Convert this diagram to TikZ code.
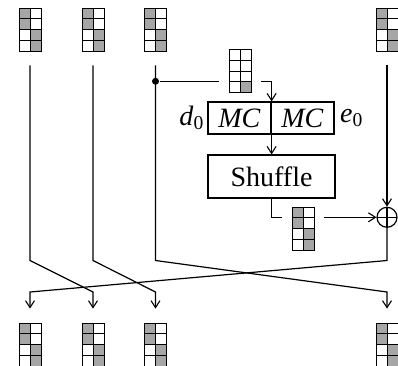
\documentclass[tikz,border=0pt]{standalone}
\usepackage{fontspec}
\setmainfont{Liberation Serif}
\usepackage{xcolor}
\usepackage{tikz}
\usetikzlibrary{positioning, calc, arrows.meta, matrix}
\definecolor{cellgray}{RGB}{166, 166, 166}

\begin{document}
\begin{tikzpicture}[x=1pt, y=-1pt, line width=1.2pt,
    arr/.style={-{Straight Barb[length=7pt, width=9pt, line width=1.1pt]}},
    g/.style={fill=cellgray},
    blk/.style={matrix of nodes, nodes in empty cells, ampersand replacement=\&,
        nodes={draw, line width=0.9pt, minimum width=11pt, minimum height=10.75pt, inner sep=0pt, anchor=center},
        row sep=-0.9pt, column sep=-0.9pt},
    box/.style={draw, inner sep=0pt, font=\fontsize{28}{30}\selectfont},
    lbl/.style={inner sep=0pt, font=\fontsize{28}{30}\selectfont}]
    \useasboundingbox (0,0) rectangle (398,365);

    % state blocks, top and bottom rows + shuffled block
    \foreach \n/\x/\y in {in1/30/29.5, in2/93/29.5, in3/155.5/29.5, in4/387/29.5,
                          out1/30/344.5, out2/93/344.5, out3/155.5/344.5, out4/387/344.5,
                          mix/303/228.5} {
        \matrix[blk] (\n) at (\x,\y) {
            |[g]| \& \\
            |[g]| \& \\
            \& |[g]| \\
            \& |[g]| \\
        };
    }
    % key block
    \matrix[blk] (key) at (240,71) {
        \& \\
        \& \\
        \& \\
        \& |[g]| \\
    };

    % round function
    \node[box, minimum width=63pt, minimum height=32pt] (mcl) at (239.5,118) {\textit{MC}};
    \node[box, minimum width=63pt, minimum height=32pt, right=-\pgflinewidth of mcl] (mcr) {\textit{MC}};
    \node[lbl, left=3pt of mcl] (d0) {\textit{d}\textsubscript{0}};
    \node[lbl, right=5pt of mcr] (e0) {\textit{e}\textsubscript{0}};
    \node[box, minimum width=127pt, minimum height=43pt] (shuf) at (271.5,176.5) {Shuffle};
    \node[draw, circle, minimum size=20pt, inner sep=0pt,
          path picture={\draw (path picture bounding box.north) -- (path picture bounding box.south)
                              (path picture bounding box.west) -- (path picture bounding box.east);}]
          (xor) at (in4 |- mix-2-2.north east) {};
    \node[circle, fill, minimum size=7pt, inner sep=0pt] (dot) at (in3 |- key-4-1.north west) {};

    \coordinate (hi) at (0,260.5);
    \coordinate (lo) at (0,292);

    \draw (dot) -- ([xshift=-10pt]key-4-1.north west);
    \draw[arr] ([xshift=10pt]key-4-2.north east) -| (mcl.north east);
    \draw[arr] (mcl.south east) -- (shuf.north -| mcl.south east);
    \draw (shuf.south -| mcl.south east) |- ([xshift=-10pt]mix-2-1.north west);
    \draw[arr] ([xshift=10pt]mix-2-2.north east) -- (xor.west);
    \draw[arr] ([yshift=-10pt]in4.south) -- (xor.north);

    % word permutation
    \draw[arr] ([yshift=-10pt]in1.south) -- (in1 |- hi) -- (out2 |- lo) -- ([yshift=10pt]out2.north);
    \draw[arr] ([yshift=-10pt]in2.south) -- (in2 |- hi) -- (out3 |- lo) -- ([yshift=10pt]out3.north);
    \draw[arr] ([yshift=-10pt]in3.south) -- (in3 |- hi) -- (out4 |- lo) -- ([yshift=10pt]out4.north);
    \draw[arr] (xor.south) -- (xor |- hi) -- (out1 |- lo) -- ([yshift=10pt]out1.north);
\end{tikzpicture}
\end{document}
